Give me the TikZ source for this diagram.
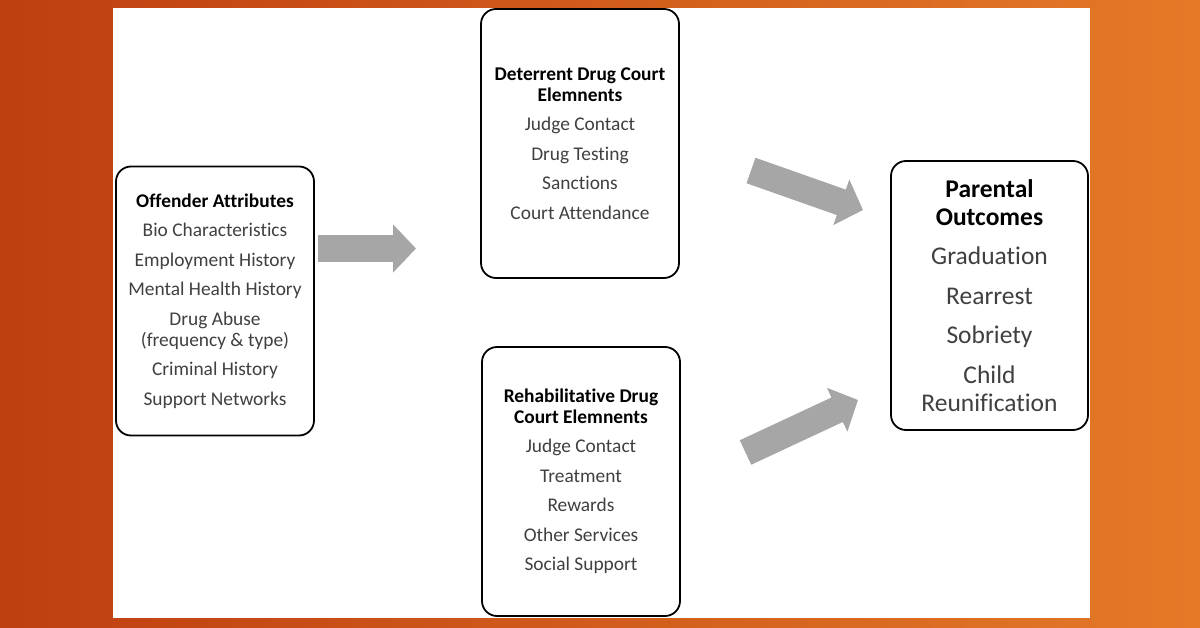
\documentclass[tikz,border=0pt]{standalone}
\usepackage{fontspec}
\setmainfont{Carlito}[Ligatures={NoCommon,TeX}]
\usetikzlibrary{arrows.meta}

\definecolor{textgray}{RGB}{64,64,64}
\definecolor{arrowgray}{RGB}{166,166,166}
\definecolor{rustleft}{RGB}{190,62,16}
\definecolor{rustmid}{RGB}{222,98,24}
\definecolor{rustright}{RGB}{228,122,40}

\begin{document}
\begin{tikzpicture}[x=1pt,y=-1pt,>={Triangle[width=47pt,length=23pt]}]

  \tikzstyle{box}=[draw,line width=1.8pt,rounded corners=15pt,fill=white,
                   minimum width=198pt,minimum height=269pt,align=center,
                   inner sep=0pt,text=textgray,
                   font=\fontsize{19.4}{21}\selectfont]
  \tikzstyle{bigbox}=[box,font=\fontsize{25.5}{28}\selectfont]
  \tikzstyle{block}=[->,line width=27pt,draw=arrowgray]

  % backdrop and white panel
  \useasboundingbox (0,0) rectangle (1200,628);
  \shade[left color=rustleft,middle color=rustmid,right color=rustright]
        (0,0) rectangle (1200,628);
  \fill[white] (113,8) rectangle (1090,618);

  \node[box] (OA) at (215,301)
    {{\color{black}\bfseries Offender Attributes}\\[8.5pt]
     Bio Characteristics\\[8.5pt]
     Employment History\\[8.5pt]
     Mental Health History\\[8.5pt]
     Drug Abuse\\(frequency \& type)\\[8.5pt]
     Criminal History\\[8.5pt]
     Support Networks};

  \node[box] (DD) at (580,143.5)
    {{\color{black}\bfseries Deterrent Drug Court}\\
     {\color{black}\bfseries Elemnents}\\[8.5pt]
     Judge Contact\\[8.5pt]
     Drug Testing\\[8.5pt]
     Sanctions\\[8.5pt]
     Court Attendance};

  \node[box] (RD) at (581,481.5)
    {{\color{black}\bfseries Rehabilitative Drug}\\
     {\color{black}\bfseries Court Elemnents}\\[8.5pt]
     Judge Contact\\[8.5pt]
     Treatment\\[8.5pt]
     Rewards\\[8.5pt]
     Other Services\\[8.5pt]
     Social Support};

  \node[bigbox,minimum width=197pt] (PO) at (989.5,295.5)
    {{\color{black}\bfseries Parental}\\
     {\color{black}\bfseries Outcomes}\\[11.5pt]
     Graduation\\[11.5pt]
     Rearrest\\[11.5pt]
     Sobriety\\[11.5pt]
     Child\\Reunification};

  % free standing block arrows
  \coordinate (OAout) at (318,248.5);
  \coordinate (DDin)  at (416,248.5);
  \coordinate (DDout) at (751,170.5);
  \coordinate (POtop) at (863,210);
  \coordinate (RDout) at (745.5,452.5);
  \coordinate (PObot) at (858,400);

  \draw[block] (OAout) -- (DDin);
  \draw[block] (DDout) -- (POtop);
  \draw[block] (RDout) -- (PObot);
\end{tikzpicture}
\end{document}
